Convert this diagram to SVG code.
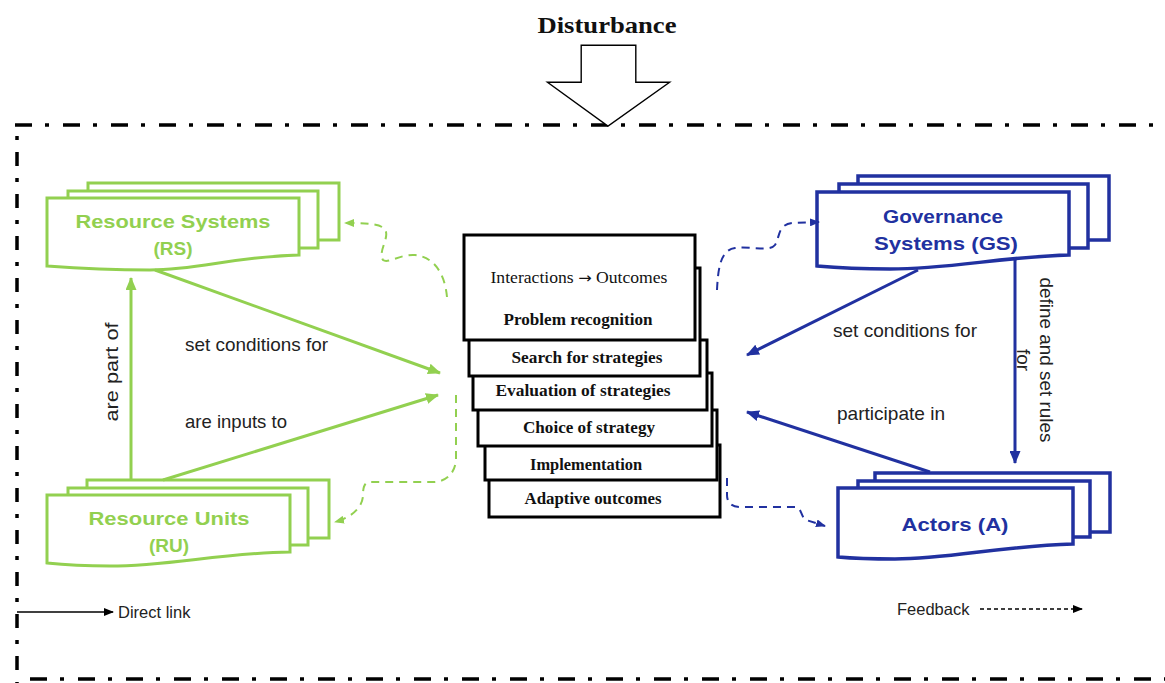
<svg xmlns="http://www.w3.org/2000/svg" width="1165" height="683" viewBox="0 0 1165 683">
  <style>
    .frame { fill: none; stroke: #000; stroke-width: 3.5; }
    .g-shape { fill: #fff; stroke: #92D050; stroke-width: 3; }
    .b-shape { fill: #fff; stroke: #2131A0; stroke-width: 3.5; }
    .step { fill: #fff; stroke: #000; stroke-width: 3; }
    .g-line { fill: none; stroke: #92D050; stroke-width: 3; }
    .b-line { fill: none; stroke: #2131A0; stroke-width: 3; }
    .g-dash { fill: none; stroke: #92D050; stroke-width: 2; stroke-dasharray: 8 6; }
    .b-dash { fill: none; stroke: #2131A0; stroke-width: 2; stroke-dasharray: 8 6; }
    .g-text { font-family: "Liberation Sans", Arial, sans-serif; font-weight: bold; font-size: 19px; fill: #92D050; text-anchor: middle; }
    .b-text { font-family: "Liberation Sans", Arial, sans-serif; font-weight: bold; font-size: 19px; fill: #2131A0; text-anchor: middle; }
    .lbl { font-family: "Liberation Sans", Arial, sans-serif; font-size: 19px; fill: #222; }
    .leg { font-family: "Liberation Sans", Arial, sans-serif; font-size: 16.5px; fill: #222; }
    .st { font-family: "Liberation Serif", "Times New Roman", serif; font-size: 16.5px; fill: #111; text-anchor: middle; }
    .stb { font-weight: bold; }
  </style>
  <defs>
    <marker id="arrGreen" markerUnits="userSpaceOnUse" markerWidth="13" markerHeight="11" refX="12" refY="5.5" orient="auto">
      <path d="M0,0 L13,5.5 L0,11 z" fill="#92D050"/>
    </marker>
    <marker id="arrBlue" markerUnits="userSpaceOnUse" markerWidth="13" markerHeight="11" refX="12" refY="5.5" orient="auto">
      <path d="M0,0 L13,5.5 L0,11 z" fill="#2131A0"/>
    </marker>
    <marker id="arrGreenSm" markerUnits="userSpaceOnUse" markerWidth="10" markerHeight="8" refX="9" refY="4" orient="auto">
      <path d="M0,0 L10,4 L0,8 z" fill="#92D050"/>
    </marker>
    <marker id="arrBlueSm" markerUnits="userSpaceOnUse" markerWidth="10" markerHeight="8" refX="9" refY="4" orient="auto">
      <path d="M0,0 L10,4 L0,8 z" fill="#2131A0"/>
    </marker>
    <marker id="arrBlack" markerUnits="userSpaceOnUse" markerWidth="10" markerHeight="8" refX="9" refY="4" orient="auto">
      <path d="M0,0 L10,4 L0,8 z" fill="#000"/>
    </marker>
    <polygon id="blockArrow" points="583,47 634,47 634,84 664,84 608,124 553,84 583,84"/>
  </defs>

  <rect width="1165" height="683" fill="#fff"/>

  <!-- system boundary (dash-dot frame) -->
  <g id="frame">
    <line class="frame" x1="15" y1="125" x2="1165" y2="125" stroke-dasharray="17 13 4 14"/>
    <line class="frame" x1="17" y1="136" x2="17" y2="683" stroke-dasharray="4 12 14 12"/>
    <line class="frame" x1="30" y1="679" x2="1165" y2="679" stroke-dasharray="17 13 4 14"/>
  </g>

  <!-- disturbance entering the system: hollow block arrow with a double outline -->
  <g id="disturbance">
    <text x="607" y="33" font-family="'Liberation Serif', 'Times New Roman', serif" font-weight="bold" font-size="23" text-anchor="middle" textLength="139" lengthAdjust="spacingAndGlyphs" fill="#111">Disturbance</text>
    <use href="#blockArrow" fill="#fff" stroke="#000" stroke-width="5" stroke-linejoin="miter"/>
    <use href="#blockArrow" fill="#fff" stroke="#fff" stroke-width="2.2" stroke-linejoin="miter"/>
  </g>

  <!-- Resource Systems -->
  <g id="node-rs">
    <rect class="g-shape" x="88" y="183" width="251" height="57"/>
    <rect class="g-shape" x="68" y="191" width="250" height="57"/>
    <path class="g-shape" d="M47,198 H299 V255 C230,257 200,270 150,270 Q100,270 47,266 Z"/>
    <text class="g-text" x="173" y="228" textLength="195" lengthAdjust="spacingAndGlyphs">Resource  Systems</text>
    <text class="g-text" x="173" y="255">(RS)</text>
  </g>

  <!-- Resource Units -->
  <g id="node-ru">
    <rect class="g-shape" x="87" y="480" width="242" height="58"/>
    <rect class="g-shape" x="68" y="488" width="240" height="57"/>
    <path class="g-shape" d="M47,495 H290 V552 C220,553 170,566 110,566 Q75,566 47,563 Z"/>
    <text class="g-text" x="169" y="525" textLength="161" lengthAdjust="spacingAndGlyphs">Resource  Units</text>
    <text class="g-text" x="169" y="552">(RU)</text>
  </g>

  <!-- Governance Systems -->
  <g id="node-gs">
    <rect class="b-shape" x="858" y="176" width="251" height="64"/>
    <rect class="b-shape" x="839" y="184" width="249" height="64"/>
    <path class="b-shape" d="M817,192 H1069 V255 C1000,257 950,269 890,269 Q850,269 817,266 Z"/>
    <text class="b-text" x="943" y="223" textLength="120" lengthAdjust="spacingAndGlyphs">Governance</text>
    <text class="b-text" x="946" y="250" textLength="144" lengthAdjust="spacingAndGlyphs">Systems  (GS)</text>
  </g>

  <!-- Actors -->
  <g id="node-a">
    <rect class="b-shape" x="875" y="473" width="235" height="59"/>
    <rect class="b-shape" x="858" y="481" width="232" height="56"/>
    <path class="b-shape" d="M838,488 H1073 V544 C1000,546 950,559 895,559 Q860,559 838,557 Z"/>
    <text class="b-text" x="955" y="531" textLength="107" lengthAdjust="spacingAndGlyphs">Actors  (A)</text>
  </g>

  <!-- action situation: stacked steps, drawn back to front -->
  <g id="node-steps">
    <rect class="step" x="489" y="445" width="231" height="72"/>
    <rect class="step" x="485" y="410" width="232" height="70"/>
    <rect class="step" x="478" y="373" width="234" height="73"/>
    <rect class="step" x="473" y="340" width="234" height="70"/>
    <rect class="step" x="469" y="268" width="231" height="108"/>
    <rect class="step" x="464" y="235" width="231" height="105"/>
    <text class="st" x="579" y="283" textLength="177" lengthAdjust="spacingAndGlyphs">Interactions <tspan font-family="'DejaVu Sans', sans-serif" font-size="15">→</tspan> Outcomes</text>
    <text class="st stb" x="578" y="325" textLength="149" lengthAdjust="spacingAndGlyphs">Problem  recognition</text>
    <text class="st stb" x="587" y="363" textLength="151" lengthAdjust="spacingAndGlyphs">Search for strategies</text>
    <text class="st stb" x="583" y="396" textLength="175" lengthAdjust="spacingAndGlyphs">Evaluation  of strategies</text>
    <text class="st stb" x="589" y="433" textLength="132" lengthAdjust="spacingAndGlyphs">Choice of strategy</text>
    <text class="st stb" x="586" y="470" textLength="112" lengthAdjust="spacingAndGlyphs">Implementation</text>
    <text class="st stb" x="593" y="504" textLength="137" lengthAdjust="spacingAndGlyphs">Adaptive  outcomes</text>
  </g>

  <!-- links between subsystems and the action situation -->
  <g id="connectors">
    <line class="g-line" x1="131" y1="480" x2="131" y2="278" marker-end="url(#arrGreen)"/>
    <line class="g-line" x1="155" y1="270" x2="440" y2="373" marker-end="url(#arrGreen)"/>
    <line class="g-line" x1="163" y1="480" x2="438" y2="395" marker-end="url(#arrGreen)"/>
    <line class="b-line" x1="918" y1="270" x2="747" y2="355" marker-end="url(#arrBlue)"/>
    <line class="b-line" x1="1015" y1="257" x2="1015" y2="463" marker-end="url(#arrBlue)"/>
    <line class="b-line" x1="930" y1="472" x2="747" y2="412" marker-end="url(#arrBlue)"/>

    <path class="g-dash" d="M447,297 C445,275 435,257 415,255 C400,254 388,264 383,260 C378,252 388,240 386,232 C384,225 375,223 345,223" marker-end="url(#arrGreenSm)"/>
    <path class="g-dash" d="M456,395 V458 C456,472 447,482 433,482 H370 C364,482 363,488 363,495 C363,508 350,518 335,522" marker-end="url(#arrGreenSm)"/>
    <path class="b-dash" d="M717,290 C718,270 720,250 735,248 C750,246 770,252 775,245 C780,238 777,225 792,223 L819,222" marker-end="url(#arrBlueSm)"/>
    <path class="b-dash" d="M727,478 V495 C727,503 732,507 740,507 H795 C802,507 800,516 806,520 L825,526" marker-end="url(#arrBlueSm)"/>

    <text class="lbl" x="185" y="351" textLength="143" lengthAdjust="spacingAndGlyphs">set conditions for</text>
    <text class="lbl" x="185" y="428" textLength="102" lengthAdjust="spacingAndGlyphs">are inputs to</text>
    <text class="lbl" transform="translate(118,372) rotate(-90)" text-anchor="middle" textLength="99" lengthAdjust="spacingAndGlyphs">are  part of</text>
    <text class="lbl" x="833" y="337" textLength="144" lengthAdjust="spacingAndGlyphs">set conditions for</text>
    <text class="lbl" x="837" y="420" textLength="108" lengthAdjust="spacingAndGlyphs">participate in</text>
    <g transform="translate(1040,360) rotate(90)">
      <text class="lbl" x="0" y="0" text-anchor="middle" textLength="165" lengthAdjust="spacingAndGlyphs">define and set rules</text>
      <text class="lbl" x="0" y="23" text-anchor="middle">for</text>
    </g>
  </g>

  <!-- key -->
  <g id="legend">
    <line x1="17" y1="612" x2="113" y2="612" stroke="#000" stroke-width="1.5" marker-end="url(#arrBlack)"/>
    <text class="leg" x="118" y="618">Direct link</text>
    <text class="leg" x="897" y="615">Feedback</text>
    <line x1="980" y1="609" x2="1082" y2="609" stroke="#000" stroke-width="1.5" stroke-dasharray="4 3" marker-end="url(#arrBlack)"/>
  </g>
</svg>
